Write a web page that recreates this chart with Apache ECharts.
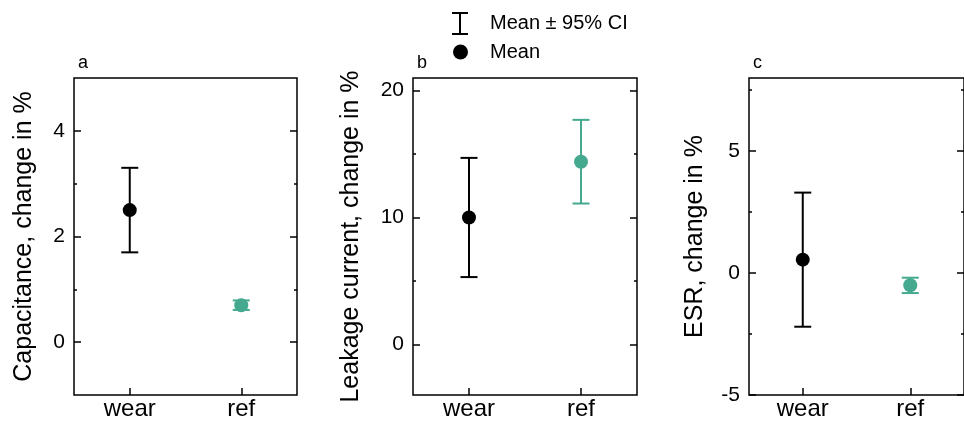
<!DOCTYPE html>
<html>
<head>
<meta charset="utf-8">
<script src="https://cdn.jsdelivr.net/npm/echarts@6/dist/echarts.min.js"></script>
<style>
  html, body { margin: 0; padding: 0; background: #fff; }
  #chart { width: 964px; height: 425px; }
</style>
</head>
<body>
<div id="chart"></div>
<script>
const categories = ['wear', 'ref']
const pointColors = ['#000000', '#44a98f']

// capacitance
const capMean = [2.5, 0.7]
const capLow = [1.7, 0.61]
const capHigh = [3.3, 0.79]
const capLabels = [0, 2, 4]
const capMinor = [1, 3]

// leakage current
const leakMean = [10.0, 14.4]
const leakLow = [5.3, 11.1]
const leakHigh = [14.7, 17.7]
const leakLabels = [0, 10, 20]
const leakMinor = [5, 15]

// ESR
const esrMean = [0.55, -0.5]
const esrLow = [-2.2, -0.82]
const esrHigh = [3.3, -0.19]
const esrLabels = [-5, 0, 5]
const esrMinor = [-2.5, 2.5, 7.5]

const chart = echarts.init(document.getElementById('chart'))
const font = 'Liberation Sans, Arial, sans-serif'
const ink = '#000'

const panels = [
  { letter: 'a', left: 74, width: 223, min: -1, max: 5, name: 'Capacitance, change in %', gap: 37,
    mean: capMean, low: capLow, high: capHigh, labels: capLabels, minor: capMinor },
  { letter: 'b', left: 413, width: 224, min: -4, max: 21, name: 'Leakage current, change in %', gap: 49,
    mean: leakMean, low: leakLow, high: leakHigh, labels: leakLabels, minor: leakMinor },
  { letter: 'c', left: 749, width: 225, min: -5, max: 8, name: 'ESR, change in %', gap: 41,
    mean: esrMean, low: esrLow, high: esrHigh, labels: esrLabels, minor: esrMinor }
]

const grid = []
const xAxis = []
const yAxis = []
const series = []
const title = []

function tickAxis (i, p, position, values, len) {
  return {
    gridIndex: i,
    type: 'value',
    position: position,
    min: p.min,
    max: p.max,
    axisLine: { show: false, onZero: false },
    axisTick: { show: true, inside: true, length: len, customValues: values, lineStyle: { color: ink, width: 1.5 } },
    axisLabel: { show: false },
    splitLine: { show: false }
  }
}

panels.forEach(function (p, i) {
  grid.push({
    left: p.left, top: 78, width: p.width, height: 317,
    show: true, borderColor: ink, borderWidth: 1.5, backgroundColor: 'transparent'
  })
  title.push({
    text: p.letter, left: p.left + 4, top: 54, padding: 0,
    textStyle: { fontSize: 18, fontWeight: 'normal', color: ink, fontFamily: font }
  })
  xAxis.push({
    gridIndex: i,
    type: 'category',
    position: 'bottom',
    data: categories,
    boundaryGap: true,
    axisLine: { show: false, onZero: false },
    axisTick: { show: true, inside: true, alignWithLabel: true, length: 7, lineStyle: { color: ink, width: 1.5 } },
    axisLabel: { fontSize: 24, color: ink, fontFamily: font, margin: 2 },
    splitLine: { show: false }
  })
  // left axis with labels and major ticks
  yAxis.push({
    gridIndex: i,
    type: 'value',
    position: 'left',
    min: p.min,
    max: p.max,
    name: p.name,
    nameLocation: 'middle',
    nameGap: p.gap,
    nameTextStyle: { fontSize: 25, color: ink, fontFamily: font },
    axisLine: { show: false, onZero: false },
    axisTick: { show: true, inside: true, length: 7, customValues: p.labels, lineStyle: { color: ink, width: 1.5 } },
    axisLabel: { show: true, customValues: p.labels, fontSize: 21, color: ink, fontFamily: font, margin: 9 },
    splitLine: { show: false }
  })
  yAxis.push(tickAxis(i, p, 'left', p.minor, 3))
  yAxis.push(tickAxis(i, p, 'right', p.labels, 7))
  yAxis.push(tickAxis(i, p, 'right', p.minor, 3))

  series.push({
    name: 'Mean ± 95% CI',
    type: 'custom',
    xAxisIndex: i,
    yAxisIndex: i * 4,
    itemStyle: { color: ink },
    data: categories.map(function (c, k) {
      return { value: [k, p.low[k], p.high[k]], itemStyle: { color: pointColors[k] } }
    }),
    renderItem: function (params, api) {
      const top = api.coord([api.value(0), api.value(2)])
      const bot = api.coord([api.value(0), api.value(1)])
      const half = 8.5
      const color = api.visual('color')
      const style = { stroke: color, lineWidth: 2 }
      return {
        type: 'group',
        children: [
          { type: 'line', shape: { x1: top[0], y1: top[1], x2: bot[0], y2: bot[1] }, style: style },
          { type: 'line', shape: { x1: top[0] - half, y1: top[1], x2: top[0] + half, y2: top[1] }, style: style },
          { type: 'line', shape: { x1: bot[0] - half, y1: bot[1], x2: bot[0] + half, y2: bot[1] }, style: style }
        ]
      }
    },
    z: 2
  })
  series.push({
    name: 'Mean',
    type: 'scatter',
    xAxisIndex: i,
    yAxisIndex: i * 4,
    symbol: 'circle',
    symbolSize: 14,
    itemStyle: { color: ink, opacity: 1 },
    data: categories.map(function (c, k) {
      return { value: [k, p.mean[k]], itemStyle: { color: pointColors[k] } }
    }),
    z: 3
  })
})

const option = {
  animation: false,
  backgroundColor: '#fff',
  textStyle: { fontFamily: font },
  title: title,
  legend: [
    {
      data: [{ name: 'Mean ± 95% CI', icon: 'path://M0,0H16V2H9V21H16V23H0V21H7V2H0Z', itemStyle: { color: ink } }],
      left: 452, top: 12, padding: 0,
      itemWidth: 16, itemHeight: 23,
      selectedMode: false,
      textStyle: { fontSize: 20, color: ink, fontFamily: font, padding: [0, 0, 0, 17] }
    },
    {
      data: [{ name: 'Mean', icon: 'circle', itemStyle: { color: ink } }],
      left: 453, top: 42, padding: 0,
      itemWidth: 15, itemHeight: 15,
      selectedMode: false,
      textStyle: { fontSize: 20, color: ink, fontFamily: font, padding: [0, 0, 0, 17] }
    }
  ],
  grid: grid,
  xAxis: xAxis,
  yAxis: yAxis,
  series: series
}

chart.setOption(option)
</script>
</body>
</html>
